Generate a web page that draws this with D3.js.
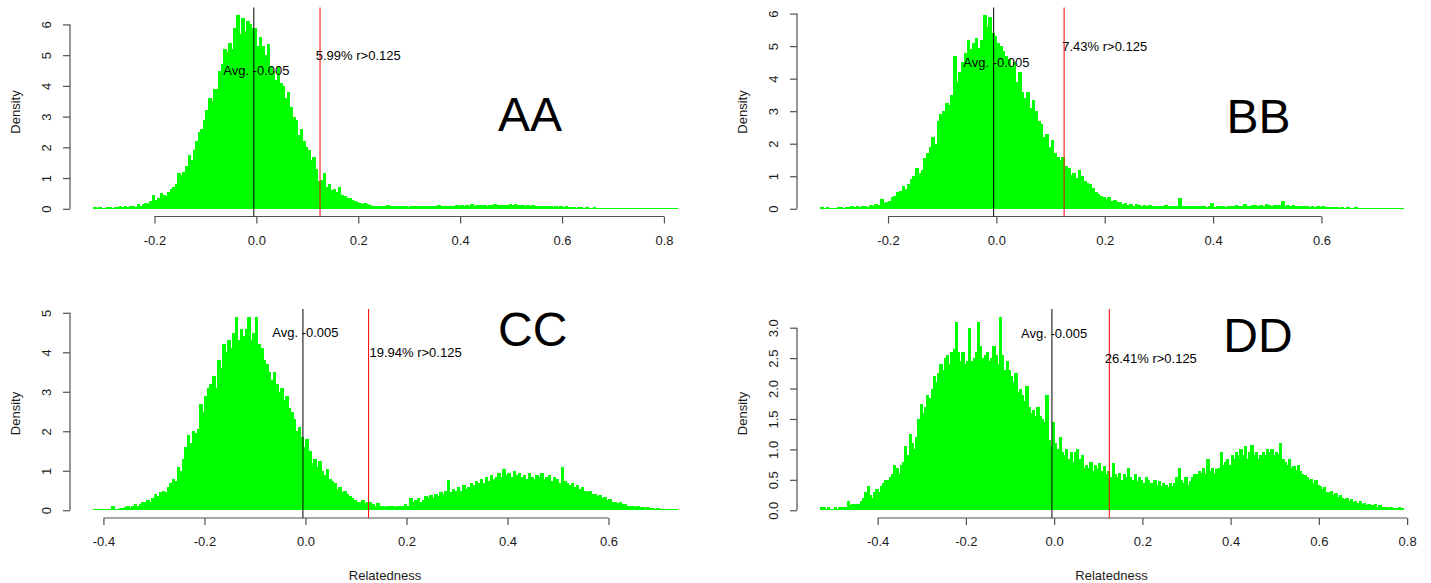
<!DOCTYPE html>
<html>
<head>
<meta charset="utf-8">
<script src="https://cdn.jsdelivr.net/npm/d3@7"></script>
<style>
  body { margin: 0; background: #fff; }
  svg { display: block; }
  text { font-family: "Liberation Sans", Arial, Helvetica, sans-serif; }
</style>
</head>
<body>
<svg id="chart" width="1431" height="583"></svg>
<script>
// Histogram densities of pairwise relatedness, one array per group.
// Each array starts at its own first break; all bins are binWidth wide.
const binWidth = 0.005;
const avgValue = -0.005;
const threshold = 0.125;

const aaStart = -0.320;
const aaDensity = [
  0.05,0,0.05,0,0,0.05,0.05,0,0.05,0.05,
  0.1,0.05,0.1,0.05,0.1,0.1,0.05,0.15,0.1,0.15,
  0.2,0.15,0.25,0.45,0.3,0.35,0.5,0.45,0.4,0.55,
  0.65,0.7,0.8,1.15,1.1,1.2,1.4,1.75,1.6,1.9,
  2.2,2.5,2.6,2.9,3.2,3.6,3.5,3.9,3.9,4.5,
  4.7,5.2,5.1,5.4,5.2,5.9,6.3,5.7,6.2,5.8,
  6.1,6.0,5.9,5.9,5.3,5.6,5.3,5.0,5.35,4.6,
  4.5,4.2,4.6,4.1,4.0,3.6,3.8,3.3,3.0,2.9,
  2.4,2.6,2.2,2.0,1.9,1.6,1.7,1.3,0.9,0.95,
  1.15,0.7,0.8,0.6,0.65,0.55,0.7,0.45,0.4,0.35,
  0.35,0.3,0.25,0.22,0.2,0.15,0.18,0.14,0.12,0.1,
  0.1,0.08,0.1,0.1,0.08,0.12,0.09,0.1,0.08,0.1,
  0.08,0.1,0.09,0.07,0.1,0.08,0.1,0.09,0.08,0.1,
  0.08,0.1,0.09,0.1,0.08,0.11,0.09,0.1,0.1,0.09,
  0.1,0.09,0.11,0.1,0.12,0.1,0.11,0.1,0.15,0.1,
  0.12,0.11,0.13,0.12,0.1,0.13,0.12,0.14,0.11,0.12,
  0.13,0.12,0.11,0.14,0.12,0.15,0.11,0.13,0.12,0.1,
  0.11,0.1,0.12,0.09,0.1,0.08,0.1,0.08,0.09,0.1,
  0.07,0.1,0.05,0.08,0.06,0.1,0.05,0.07,0.05,0.04,
  0.05,0.06,0.03,0.05,0.04,0.03,0.05,0.02,0.04,0.02,
  0.02,0.03,0.02,0.02,0,0.03,0.02,0,0.02,0.02,
  0,0.02,0,0.02,0,0,0.02,0,0,0.02,
  0,0,0.02,0,0,0,0.02,0,0.02
];

const bbStart = -0.325;
const bbDensity = [
  0.05,0,0.05,0,0.02,0,0.05,0.05,0,0.05,
  0.05,0.08,0.05,0.1,0.05,0.08,0.1,0.05,0.12,0.1,
  0.15,0.12,0.3,0.18,0.2,0.25,0.35,0.4,0.5,0.55,
  0.7,0.6,0.75,0.9,1.0,1.25,1.1,1.2,1.55,1.7,
  1.9,2.2,2.0,2.7,2.9,3.0,3.25,3.2,3.5,4.7,
  3.9,4.2,4.5,4.8,5.2,4.9,5.1,5.25,4.95,5.2,
  5.95,5.6,5.9,5.4,5.3,5.1,5.0,4.85,4.7,4.6,
  4.4,4.5,3.9,4.2,3.6,3.4,3.6,3.1,3.35,3.0,
  2.7,2.6,2.2,2.3,1.9,2.1,1.7,1.6,1.5,1.6,
  1.3,1.25,1.05,1.1,0.95,1.2,1.0,0.85,0.8,0.75,
  0.65,0.5,0.45,0.4,0.35,0.3,0.35,0.25,0.28,0.2,
  0.2,0.15,0.18,0.12,0.15,0.1,0.14,0.12,0.1,0.12,
  0.1,0.12,0.08,0.1,0.09,0.1,0.08,0.12,0.1,0.08,
  0.1,0.08,0.34,0.1,0.07,0.09,0.08,0.1,0.07,0.08,
  0.07,0.1,0.06,0.08,0.18,0.06,0.08,0.07,0.09,0.06,
  0.08,0.1,0.07,0.12,0.09,0.1,0.14,0.08,0.1,0.12,
  0.11,0.1,0.13,0.1,0.14,0.12,0.1,0.13,0.11,0.12,
  0.24,0.1,0.11,0.08,0.12,0.09,0.1,0.08,0.07,0.09,
  0.06,0.08,0.05,0.07,0.06,0.1,0.05,0.06,0.04,0.05,
  0.04,0.03,0.05,0.03,0.04,0.02,0.03,0.04,0.02,0.03,
  0.02,0.03,0.02,0.02,0.03,0.02,0,0.02,0.02,0,
  0.02,0,0.02,0,0.03
];

const ccStart = -0.420;
const ccDensity = [
  0.03,0.03,0,0.03,0.03,0.03,0.03,0.1,0.03,0.03,
  0.05,0.05,0.08,0.1,0.05,0.12,0.15,0.1,0.15,0.2,
  0.2,0.25,0.22,0.3,0.4,0.35,0.45,0.5,0.45,0.6,
  0.7,0.8,0.75,1.1,1.0,1.3,1.6,1.9,1.7,2.0,
  1.95,2.05,2.7,2.5,2.9,3.1,3.2,3.4,3.1,3.8,
  3.6,4.2,4.0,4.3,4.1,4.5,4.9,4.3,4.6,4.4,
  4.6,4.9,4.3,4.5,4.9,4.2,4.1,3.8,3.7,3.5,
  3.3,3.5,3.2,3.0,3.1,2.8,2.9,2.6,2.5,2.3,
  2.0,2.1,1.85,1.6,1.8,1.5,1.2,1.3,1.1,1.25,
  1.0,0.9,1.05,0.8,0.75,0.7,0.55,0.6,0.45,0.5,
  0.4,0.35,0.3,0.25,0.22,0.2,0.25,0.18,0.2,0.22,
  0.15,0.12,0.18,0.1,0.12,0.08,0.1,0.12,0.1,0.09,
  0.1,0.12,0.1,0.15,0.1,0.3,0.2,0.25,0.3,0.2,
  0.25,0.35,0.3,0.38,0.3,0.4,0.35,0.45,0.4,0.5,
  0.76,0.45,0.55,0.5,0.6,0.5,0.65,0.55,0.6,0.7,
  0.65,0.75,0.7,0.8,0.7,0.85,0.75,0.9,0.8,0.85,
  0.95,0.85,1.05,0.9,0.95,0.85,1.0,0.9,0.95,0.85,
  0.9,0.8,0.95,0.85,0.8,0.9,0.85,0.95,0.8,0.85,
  0.9,0.75,0.85,0.8,0.7,1.1,0.75,0.7,0.65,0.7,
  0.6,0.65,0.55,0.6,0.5,0.45,0.5,0.4,0.42,0.35,
  0.38,0.3,0.34,0.25,0.28,0.2,0.22,0.18,0.2,0.15,
  0.17,0.12,0.1,0.12,0.08,0.1,0.07,0.08,0.06,0.08,
  0.05,0.06,0.04,0.05,0.03,0.04,0.03,0.02,0.03,0.03,
  0.03
];

const ddStart = -0.530;
const ddDensity = [
  0.05,0.05,0,0.05,0,0,0.05,0,0.05,0.05,
  0.05,0.05,0.15,0.08,0.1,0.1,0.1,0.1,0.15,0.2,
  0.3,0.4,0.25,0.2,0.3,0.35,0.3,0.4,0.45,0.5,
  0.5,0.55,0.6,0.75,0.7,0.6,0.75,0.8,1.05,0.9,
  1.25,1.1,1.0,1.2,1.5,1.75,1.6,1.7,1.9,1.85,
  2.0,2.2,2.1,2.25,2.4,2.3,2.5,2.55,2.4,2.6,
  2.65,3.1,2.6,2.45,2.6,2.4,2.45,3.0,2.45,2.5,
  2.6,3.1,2.7,2.5,2.55,2.6,2.45,2.5,2.7,2.55,
  2.4,3.18,2.55,2.3,2.45,2.3,2.2,2.1,2.25,1.95,
  2.0,1.9,1.8,2.05,1.7,1.6,1.65,1.55,1.7,1.55,
  1.5,1.45,1.9,1.15,1.05,1.45,1.1,1.0,1.2,0.95,
  0.9,1.0,0.85,0.95,0.8,0.95,1.0,0.85,0.9,0.7,
  0.75,0.7,0.8,0.65,0.75,0.7,0.78,0.65,0.72,0.6,
  0.65,0.55,0.77,0.6,0.55,0.62,0.5,0.6,0.55,0.7,
  0.55,0.5,0.6,0.48,0.55,0.5,0.45,0.55,0.5,0.45,
  0.45,0.5,0.42,0.48,0.4,0.45,0.42,0.38,0.45,0.4,
  0.45,0.55,0.7,0.5,0.45,0.55,0.42,0.48,0.55,0.6,
  0.6,0.65,0.62,0.7,0.6,0.85,0.65,0.7,0.6,0.68,
  0.7,0.95,0.75,0.8,0.85,0.75,0.9,0.85,0.95,0.9,
  1.0,0.9,1.05,0.85,0.95,1.07,0.9,0.95,0.85,0.9,
  0.95,0.9,1.0,0.95,1.0,0.9,0.95,0.92,1.1,0.85,
  0.8,0.75,0.85,0.7,0.72,0.66,0.75,0.65,0.6,0.58,
  0.55,0.5,0.52,0.45,0.5,0.42,0.4,0.35,0.38,0.3,
  0.3,0.32,0.25,0.28,0.22,0.25,0.2,0.18,0.2,0.15,
  0.18,0.14,0.15,0.12,0.15,0.1,0.12,0.08,0.1,0.08,
  0.08,0.1,0.06,0.08,0.05,0.06,0.05,0.04,0.06,0.03,
  0.04,0.03,0.05,0.03
];

// Axis ticks
const aaXTicks = [-0.2, 0.0, 0.2, 0.4, 0.6, 0.8];
const bbXTicks = [-0.2, 0.0, 0.2, 0.4, 0.6];
const ccXTicks = [-0.4, -0.2, 0.0, 0.2, 0.4, 0.6];
const ddXTicks = [-0.4, -0.2, 0.0, 0.2, 0.4, 0.6, 0.8];
const aaYTicks = [0, 1, 2, 3, 4, 5, 6];
const bbYTicks = [0, 1, 2, 3, 4, 5, 6];
const ccYTicks = [0, 1, 2, 3, 4, 5];
const ddYTicks = [0.0, 0.5, 1.0, 1.5, 2.0, 2.5, 3.0];

// Text
const groupNames = ["AA", "BB", "CC", "DD"];
const shareAbove = ["5.99%", "7.43%", "19.94%", "26.41%"];
const avgText = "Avg. -0.005";
const yTitle = "Density";
const xTitle = "Relatedness";

// Panel layout (pixels) and annotation anchors (data units)
const layout = [
  { left: 70,  right: 700,  top: 7.5, bottom: 216.5, xTitle: false, avgY: 4.5, pctX: 0.2,   pctY: 5,   nameX: 0.537, nameY: 3.08, yDigits: 0 },
  { left: 797, right: 1426, top: 7.5, bottom: 216.5, xTitle: false, avgY: 4.5, pctX: 0.2,   pctY: 5,   nameX: 0.484, nameY: 2.86, yDigits: 0 },
  { left: 70,  right: 700,  top: 309, bottom: 518,   xTitle: true,  avgY: 4.5, pctX: 0.218, pctY: 4,   nameX: 0.45,  nameY: 4.6,  yDigits: 0 },
  { left: 797, right: 1426, top: 309, bottom: 518,   xTitle: true,  avgY: 2.9, pctX: 0.219, pctY: 2.5, nameX: 0.462, nameY: 2.89, yDigits: 1 }
];

const panels = [
  { start: aaStart, density: aaDensity, xTicks: aaXTicks, yTicks: aaYTicks },
  { start: bbStart, density: bbDensity, xTicks: bbXTicks, yTicks: bbYTicks },
  { start: ccStart, density: ccDensity, xTicks: ccXTicks, yTicks: ccYTicks },
  { start: ddStart, density: ddDensity, xTicks: ddXTicks, yTicks: ddYTicks }
].map((p, i) => Object.assign(p, layout[i], { name: groupNames[i], pct: shareAbove[i] + " r>" + threshold }));

const svg = d3.select("#chart");
const axisColor = "#505050";
const textColor = "#1a1a1a";

panels.forEach(p => {
  const n = p.density.length;
  const lo = p.start, hi = p.start + n * binWidth;
  const pad = 0.04 * (hi - lo);
  const x = d3.scaleLinear().domain([lo - pad, hi + pad]).range([p.left, p.right]);
  const ymax = d3.max(p.density);
  const y = d3.scaleLinear().domain([-0.04 * ymax, 1.04 * ymax]).range([p.bottom, p.top]);

  const g = svg.append("g");

  // bars: crisp edges with a 1px overlap so neighbouring bins fuse into a solid fill
  const bins = p.density.map((d, i) => ({ x0: lo + i * binWidth, x1: lo + (i + 1) * binWidth, d }));
  g.append("g").attr("shape-rendering", "crispEdges")
    .selectAll("rect").data(bins).join("rect")
    .attr("x", b => x(b.x0))
    .attr("width", b => x(b.x1) - x(b.x0) + 1)
    .attr("y", b => Math.min(y(b.d), y(0) - 1))
    .attr("height", b => Math.max(y(0) - y(b.d), 1))
    .attr("fill", "#00ff00");

  // x axis
  const xa = g.append("g")
    .attr("transform", `translate(0,${p.bottom})`)
    .call(d3.axisBottom(x).tickValues(p.xTicks).tickSize(7).tickFormat(d => d.toFixed(1)));
  xa.select(".domain").remove();
  xa.append("line")
    .attr("x1", x(p.xTicks[0])).attr("x2", x(p.xTicks[p.xTicks.length - 1]))
    .attr("stroke", axisColor).attr("stroke-width", 1.2);
  xa.selectAll(".tick line").attr("stroke", axisColor).attr("stroke-width", 1.2);
  xa.selectAll(".tick text")
    .attr("y", 23.5).attr("dy", "0.36em")
    .attr("font-size", 13).attr("fill", textColor)
    .style("font-family", "'Liberation Sans', Arial, sans-serif");

  // y axis
  const ya = g.append("g")
    .attr("transform", `translate(${p.left},0)`)
    .call(d3.axisLeft(y).tickValues(p.yTicks).tickSize(7).tickFormat(d => d.toFixed(p.yDigits)));
  ya.select(".domain").remove();
  ya.append("line")
    .attr("y1", y(p.yTicks[0])).attr("y2", y(p.yTicks[p.yTicks.length - 1]))
    .attr("stroke", axisColor).attr("stroke-width", 1.2);
  ya.selectAll(".tick line").attr("stroke", axisColor).attr("stroke-width", 1.2);
  ya.selectAll(".tick text")
    .attr("x", 0).attr("y", 0).attr("dy", "0.36em")
    .attr("text-anchor", "middle")
    .attr("transform", "translate(-24,0) rotate(-90)")
    .attr("font-size", 13).attr("fill", textColor)
    .style("font-family", "'Liberation Sans', Arial, sans-serif");

  // axis titles
  g.append("text")
    .attr("transform", `translate(${p.left - 55},${(p.top + p.bottom) / 2}) rotate(-90)`)
    .attr("text-anchor", "middle").attr("dy", "0.36em")
    .attr("font-size", 13).attr("fill", textColor)
    .text(yTitle);
  if (p.xTitle) {
    g.append("text")
      .attr("x", (p.left + p.right) / 2).attr("y", 575)
      .attr("text-anchor", "middle").attr("dy", "0.36em")
      .attr("font-size", 13).attr("fill", textColor)
      .text(xTitle);
  }

  // mean and threshold lines
  g.append("line")
    .attr("x1", x(avgValue)).attr("x2", x(avgValue))
    .attr("y1", p.top).attr("y2", p.bottom)
    .attr("stroke", "#000").attr("stroke-width", 1);
  g.append("line")
    .attr("x1", x(threshold)).attr("x2", x(threshold))
    .attr("y1", p.top).attr("y2", p.bottom)
    .attr("stroke", "#ff0000").attr("stroke-width", 1);

  // annotations
  g.append("text")
    .attr("x", x(0)).attr("y", y(p.avgY)).attr("dy", "0.36em")
    .attr("text-anchor", "middle").attr("font-size", 13).attr("fill", "#000")
    .text(avgText);
  g.append("text")
    .attr("x", x(p.pctX)).attr("y", y(p.pctY)).attr("dy", "0.36em")
    .attr("text-anchor", "middle").attr("font-size", 13).attr("fill", "#000")
    .text(p.pct);
  g.append("text")
    .attr("x", x(p.nameX)).attr("y", y(p.nameY)).attr("dy", "0.36em")
    .attr("text-anchor", "middle").attr("font-size", 48).attr("fill", "#000")
    .text(p.name);
});
</script>
</body>
</html>
